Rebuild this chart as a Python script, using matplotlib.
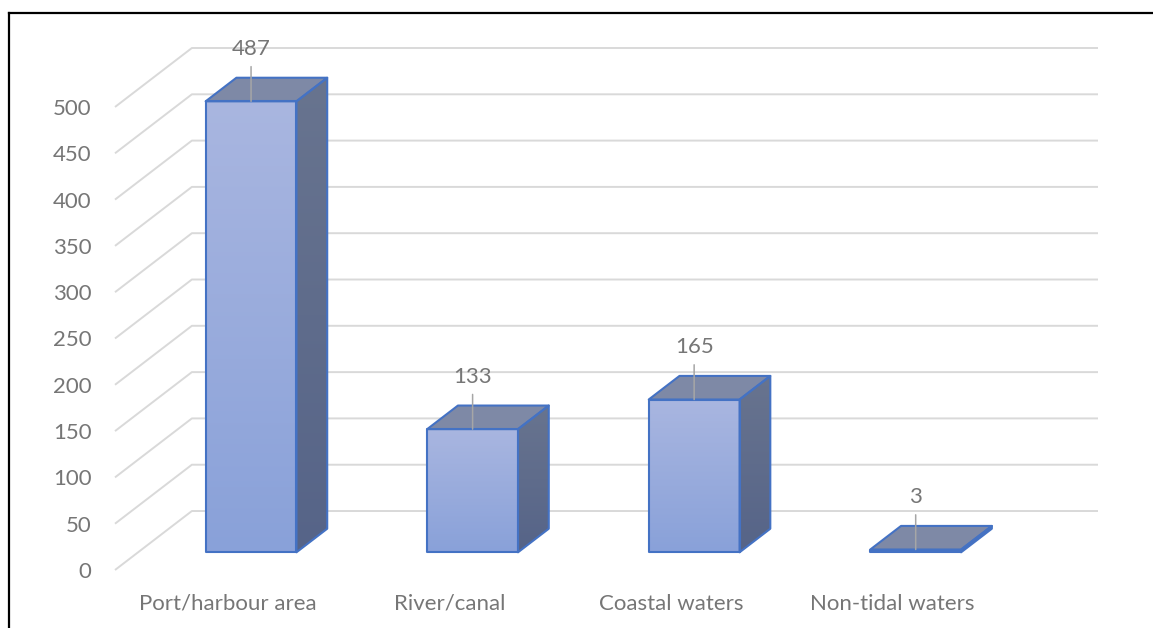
import numpy as np
import matplotlib
matplotlib.use("Agg")
import matplotlib.pyplot as plt
from matplotlib.patches import Polygon
from matplotlib.colors import LinearSegmentedColormap
from matplotlib.lines import Line2D

# ---- data ----
categories = ["Port/harbour area", "River/canal", "Coastal waters", "Non-tidal waters"]
values = [487, 133, 165, 3]
yticks = [0, 50, 100, 150, 200, 250, 300, 350, 400, 450, 500]

# ---- styling / oblique projection ----
FONT = "Lato"
FS = 16
TXT = "#767676"
GRID = "#D9D9D9"
EDGE = "#4472C4"
DX = 0.347      # x shift (category units) for full depth
DY = 63.7       # y shift (value units) for full depth
Z0, Z1 = 0.30, 0.70
W = 0.41
XLO, XHI = -0.51, 3.58

def proj(x, y, z):
    return (x + z * DX, y + z * DY)

W_PX, H_PX = 1153, 628
fig = plt.figure(figsize=(W_PX / 100, H_PX / 100), dpi=100)
ax = fig.add_axes([115 / W_PX, (H_PX - 570) / H_PX, (1098 - 115) / W_PX, (570 - 48) / H_PX])
ax.set_xlim(XLO, XHI + DX)
ax.set_ylim(0, max(yticks) + DY)
for s in ax.spines.values():
    s.set_visible(False)

# grid: left-wall diagonals + back-wall lines
for v in yticks:
    p0 = proj(XLO, v, 0); p1 = proj(XLO, v, 1); p2 = proj(XHI, v, 1)
    ax.plot([p0[0], p1[0], p2[0]], [p0[1], p1[1], p2[1]], color=GRID, lw=1.4,
            zorder=1, solid_capstyle="butt", clip_on=False)

def grad_face(pts, c_top, c_bot, z):
    poly = Polygon(pts, closed=True, facecolor="none", edgecolor="none", zorder=z)
    ax.add_patch(poly)
    xs = [p[0] for p in pts]; ys = [p[1] for p in pts]
    cmap = LinearSegmentedColormap.from_list("g", [c_bot, c_top])
    g = np.linspace(0, 1, 256).reshape(-1, 1)
    im = ax.imshow(g, extent=[min(xs), max(xs), min(ys), max(ys)], origin="lower",
                   aspect="auto", cmap=cmap, interpolation="bicubic", zorder=z)
    im.set_clip_path(poly)
    return poly

for i, v in enumerate(values):
    xl, xr = i - W / 2, i + W / 2
    front = [proj(xl, 0, Z0), proj(xr, 0, Z0), proj(xr, v, Z0), proj(xl, v, Z0)]
    side = [proj(xr, 0, Z0), proj(xr, 0, Z1), proj(xr, v, Z1), proj(xr, v, Z0)]
    top = [proj(xl, v, Z0), proj(xr, v, Z0), proj(xr, v, Z1), proj(xl, v, Z1)]
    zb = 3 + i * 0.1
    grad_face(front, "#A9B6E0", "#89A1D9", zb)
    grad_face(side, "#68748F", "#566488", zb)
    ax.add_patch(Polygon(top, closed=True, facecolor="#7E89A6", edgecolor="none", zorder=zb))
    for pts in (front, side, top):
        ax.add_patch(Polygon(pts, closed=True, facecolor="none", edgecolor=EDGE, lw=1.5,
                             joinstyle="round", zorder=zb + 0.05))
    fx, fy = proj(i, v, Z0)
    ax.annotate("", xy=(fx, fy), xytext=(0, 25), textcoords="offset points",
                arrowprops=dict(arrowstyle="-", color="#A6A6A6", lw=1.1, shrinkA=0, shrinkB=0),
                zorder=zb + 0.08, annotation_clip=False)
    ax.annotate(str(v), xy=(fx, fy), xytext=(0, 37.5), textcoords="offset points",
                ha="center", va="center", fontsize=FS, family=FONT, color=TXT,
                zorder=10, annotation_clip=False)

ax.set_yticks(yticks)
ax.set_yticklabels([str(t) for t in yticks], fontsize=FS, family=FONT, color=TXT)
ax.set_xticks(range(len(categories)))
ax.set_xticklabels(categories, fontsize=FS, family=FONT, color=TXT)
ax.tick_params(axis="y", length=0, pad=17)
ax.tick_params(axis="x", length=0, pad=17)

# chart border (left and top visible)
fig.add_artist(Line2D([9 / W_PX, 9 / W_PX], [0, (H_PX - 13) / H_PX], color="black", lw=1.6))
fig.add_artist(Line2D([9 / W_PX, 1], [(H_PX - 13) / H_PX, (H_PX - 13) / H_PX], color="black", lw=1.6))

fig.savefig("out.png", dpi=100)
